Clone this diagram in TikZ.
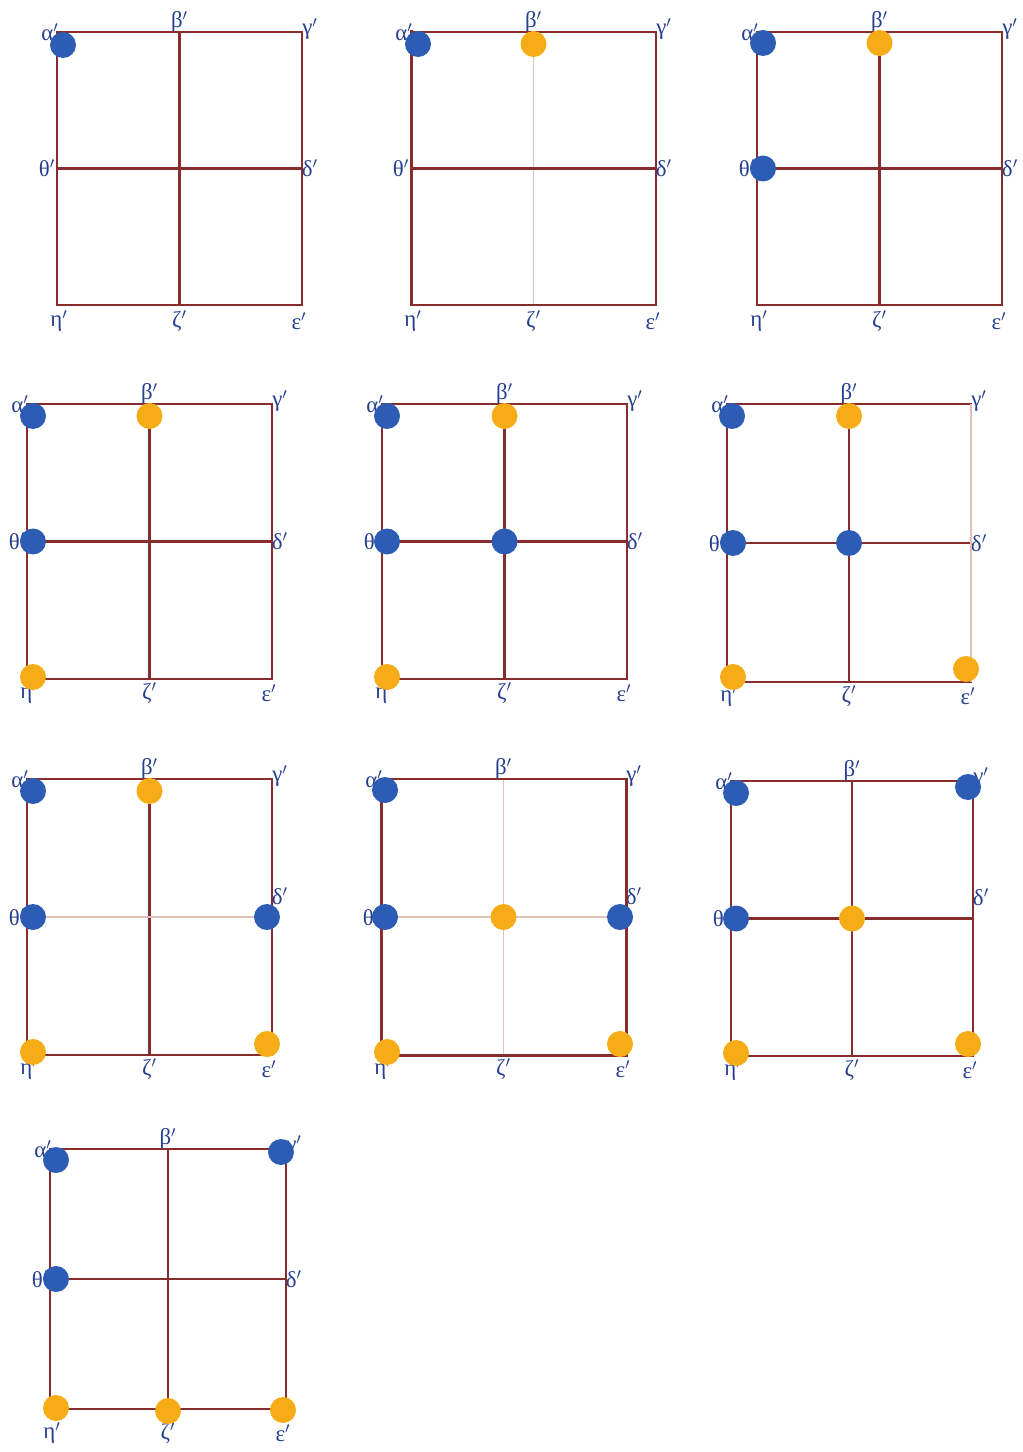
\documentclass[tikz,border=0pt]{standalone}
\usepackage{fontspec}
\setmainfont{Liberation Serif}

\begin{document}
\begin{tikzpicture}[x=0.02cm,y=-0.02cm]
    % Colours and styles
    \definecolor{gridred}{RGB}{135,45,45}
    \definecolor{gridpale}{RGB}{224,194,184}
    \definecolor{dotblue}{RGB}{45,92,180}
    \definecolor{dotorange}{RGB}{245,172,22}
    \definecolor{labelblue}{RGB}{38,64,145}
    \tikzstyle{redline}=[gridred, line width=1.2pt, line cap=rect]
    \tikzstyle{heavyline}=[gridred, line width=1.7pt, line cap=rect]
    \tikzstyle{paleline}=[gridpale, line width=0.9pt]
    \tikzstyle{bluedot}=[circle, fill=dotblue, inner sep=0pt, minimum size=0.52cm]
    \tikzstyle{orangedot}=[circle, fill=dotorange, inner sep=0pt, minimum size=0.52cm]
    \tikzstyle{vertexlabel}=[labelblue, inner sep=0pt, font=\fontsize{13}{15}\selectfont]

    \useasboundingbox (0,0) rectangle (1022,1452);

    % Panels: number / left / top / width / height / delta shift / bottom label drop
    \foreach \p/\x/\y/\w/\h/\dd/\bb in {1/57/32/245/273/0/16, 2/411/32/245/273/0/16,
        3/757/32/245/273/0/16, 4/27/404/245/275/0/14, 5/382/404/245/275/0/14,
        6/727/404/244/278/0/14, 7/27/779/245/276/-21/14, 8/381/779/245/276/-21/14,
        9/731/781/242/275/-21/14, 10/50/1149/236/260/0/24}
    {
        \coordinate (p\p-al) at (\x,\y);
        \coordinate (p\p-be) at (\x+\w/2,\y);
        \coordinate (p\p-ga) at (\x+\w,\y);
        \coordinate (p\p-de) at (\x+\w,\y+\h/2);
        \coordinate (p\p-ep) at (\x+\w,\y+\h);
        \coordinate (p\p-ze) at (\x+\w/2,\y+\h);
        \coordinate (p\p-et) at (\x,\y+\h);
        \coordinate (p\p-th) at (\x,\y+\h/2);
        \coordinate (p\p-c) at (\x+\w/2,\y+\h/2);

        % vertex labels
        \node[vertexlabel] (p\p-lal) at ([shift={(-7,0)}]p\p-al) {α$'$};
        \node[vertexlabel] (p\p-lbe) at ([shift={(0,-10)}]p\p-be) {β$'$};
        \node[vertexlabel] (p\p-lga) at ([shift={(8,-3)}]p\p-ga) {γ$'$};
        \node[vertexlabel] (p\p-lde) at ([shift={(8,\dd)}]p\p-de) {δ$'$};
        \node[vertexlabel] (p\p-lep) at ([shift={(-3,\bb)}]p\p-ep) {ε$'$};
        \node[vertexlabel] (p\p-lze) at ([shift={(0,\bb)}]p\p-ze) {ζ$'$};
        \node[vertexlabel] (p\p-let) at ([shift={(2,\bb)}]p\p-et) {η$'$};
        \node[vertexlabel] (p\p-lth) at ([shift={(-10,0)}]p\p-th) {θ$'$};
    }

    % Grid lines: top / bottom / left / right / vertical middle / horizontal middle
    \foreach \p/\sT/\sB/\sL/\sR/\sV/\sH in {1/redline/redline/redline/redline/redline/redline,
        2/redline/redline/heavyline/redline/paleline/redline,
        3/redline/redline/redline/redline/redline/redline,
        4/redline/redline/redline/redline/redline/redline,
        5/redline/redline/redline/redline/redline/redline,
        6/redline/redline/redline/paleline/redline/redline,
        7/redline/redline/redline/redline/redline/paleline,
        8/heavyline/heavyline/heavyline/heavyline/paleline/paleline,
        9/redline/redline/redline/redline/redline/redline,
        10/redline/redline/redline/redline/redline/redline}
    {
        \draw[\sV] (p\p-be) -- (p\p-ze);
        \draw[\sH] (p\p-th) -- (p\p-de);
        \draw[\sT] (p\p-al) -- (p\p-ga);
        \draw[\sB] (p\p-et) -- (p\p-ep);
        \draw[\sL] (p\p-al) -- (p\p-et);
        \draw[\sR] (p\p-ga) -- (p\p-ep);
    }

    % Dots: panel / vertex / shift x / shift y / colour
    \foreach \p/\v/\dx/\dy/\c in {1/al/6/13/bluedot,
        2/al/7/12/bluedot, 2/be/0/12/orangedot,
        3/al/6/11/bluedot, 3/be/0/11/orangedot, 3/th/6/0/bluedot,
        4/al/6/12/bluedot, 4/be/0/12/orangedot, 4/th/6/0/bluedot, 4/et/6/-2/orangedot,
        5/al/5/12/bluedot, 5/be/0/12/orangedot, 5/th/5/0/bluedot, 5/c/0/0/bluedot,
        5/et/5/-2/orangedot,
        6/al/5/12/bluedot, 6/be/0/12/orangedot, 6/th/6/0/bluedot, 6/c/0/0/bluedot,
        6/et/6/-5/orangedot, 6/ep/-5/-13/orangedot,
        7/al/6/12/bluedot, 7/be/0/12/orangedot, 7/th/6/0/bluedot, 7/de/-5/0/bluedot,
        7/et/6/-3/orangedot, 7/ep/-5/-11/orangedot,
        8/al/4/11/bluedot, 8/th/4/0/bluedot, 8/c/0/0/orangedot, 8/de/-6/0/bluedot,
        8/et/6/-3/orangedot, 8/ep/-6/-11/orangedot,
        9/al/5/12/bluedot, 9/ga/-5/6/bluedot, 9/th/5/0/bluedot, 9/c/0/0/orangedot,
        9/et/5/-3/orangedot, 9/ep/-5/-12/orangedot,
        10/al/6/11/bluedot, 10/ga/-5/3/bluedot, 10/th/6/0/bluedot,
        10/et/6/-1/orangedot, 10/ze/0/2/orangedot, 10/ep/-3/1/orangedot}
    {
        \node[\c] (d\p-\v) at ([shift={(\dx,\dy)}]p\p-\v) {};
    }

\end{tikzpicture}
\end{document}
